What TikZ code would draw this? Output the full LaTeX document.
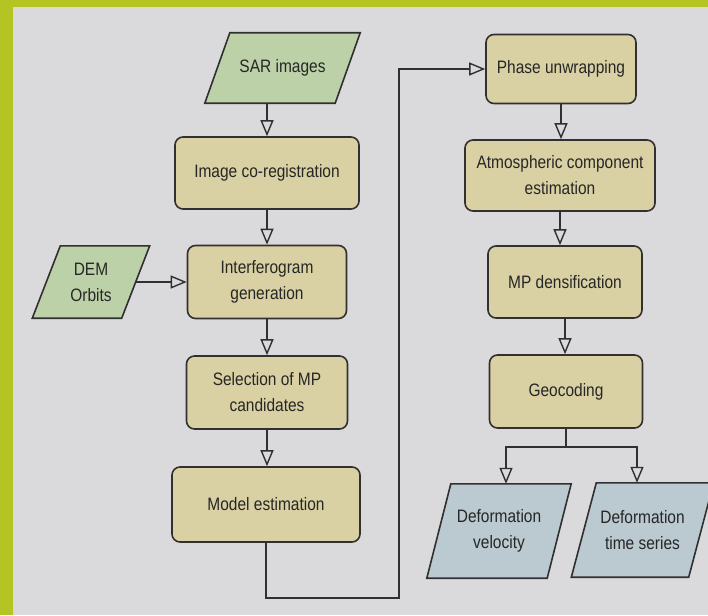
\documentclass[tikz,border=0pt]{standalone}
\usepackage{fontspec}
\setmainfont{Liberation Sans}[FakeStretch=0.86]
\usetikzlibrary{arrows.meta,calc}
\definecolor{framegreen}{HTML}{B3C423}
\definecolor{pagegray}{HTML}{DAD9DC}
\definecolor{boxtan}{HTML}{D9D1A3}
\definecolor{paragreen}{HTML}{BDD1A8}
\definecolor{parablue}{HTML}{BACAD0}
\definecolor{inkgray}{HTML}{303030}
\definecolor{txtgray}{HTML}{262626}
\pgfdeclarelayer{paper}
\pgfdeclarelayer{shapes}
\pgfsetlayers{paper,shapes,main}
\newcommand{\paragram}[3]{%
  \begin{pgfonlayer}{shapes}
  \filldraw[fill=#2, draw=inkgray, line width=1.6pt, line join=miter]
    ($(#1.south west)+(-#3,0)$) -- ($(#1.south east)+(-#3,0)$) --
    ($(#1.north east)+(#3,0)$) -- ($(#1.north west)+(#3,0)$) -- cycle;
  \end{pgfonlayer}}
\begin{document}
\begin{tikzpicture}[x=1pt,y=-1pt,
  every node/.style={text=txtgray, font=\fontsize{18}{26}\selectfont, align=center, inner sep=0pt},
  stepbox/.style={draw=inkgray, line width=1.6pt, fill=boxtan, rounded corners=8pt},
  dataslot/.style={draw=none},
  conn/.style={draw=inkgray, line width=1.6pt},
  arr/.style={conn, -{Triangle[open, length=16pt, width=13pt, line width=1.4pt]}}]
% page and frame
\begin{pgfonlayer}{paper}
\fill[framegreen] (0,0) rectangle (708,615);
\fill[pagegray] (13,7) rectangle (708,615);
\end{pgfonlayer}
\useasboundingbox (0,0) rectangle (708,615);
% left column
\node[dataslot, minimum width=130pt, minimum height=70pt] (sar) at (282.5,68) {SAR images};
\node[stepbox, minimum width=184pt, minimum height=72pt] (ico) at (267,173) {Image co-registration};
\node[stepbox, minimum width=159pt, minimum height=73pt] (ifg) at (267,282) {Interferogram\\generation};
\node[dataslot, minimum width=89pt, minimum height=72pt] (dem) at (91,282) {DEM\\Orbits};
\node[stepbox, minimum width=161pt, minimum height=73pt] (sel) at (267,392.5) {Selection of MP\\candidates};
\node[stepbox, minimum width=188pt, minimum height=75pt] (mod) at (266,504.5) {Model estimation};
% right column
\node[stepbox, minimum width=150pt, minimum height=69pt] (pu) at (561,69) {Phase unwrapping};
\node[stepbox, minimum width=190pt, minimum height=71pt] (atm) at (560,175.5) {Atmospheric component\\estimation};
\node[stepbox, minimum width=154pt, minimum height=72pt] (mpd) at (565,282) {MP densification};
\node[stepbox, minimum width=153pt, minimum height=73pt] (geo) at (566,391.5) {Geocoding};
\node[dataslot, minimum width=120pt, minimum height=94pt] (dv) at (499,531) {Deformation\\velocity};
\node[dataslot, minimum width=117pt, minimum height=94pt] (dts) at (642.5,530) {Deformation\\time series};
% parallelogram outlines
\paragram{sar}{paragreen}{12.5}
\paragram{dem}{paragreen}{14}
\paragram{dv}{parablue}{12}
\paragram{dts}{parablue}{12.5}
% connectors
\draw[arr] (sar.south -| ico.north) -- (ico.north);
\draw[arr] (ico.south) -- (ifg.north);
\draw[arr] (dem.east) -- (ifg.west);
\draw[arr] (ifg.south) -- (sel.north);
\draw[arr] (sel.south) -- (sel.south |- mod.north);
\coordinate (c1) at (266,598);
\coordinate (c2) at (399,598);
\draw[arr] (mod.south) -- (c1) -- (c2) |- (pu.west);
\draw[arr] (pu.south) -- (pu.south |- atm.north);
\draw[arr] (atm.south) -- (atm.south |- mpd.north);
\draw[arr] (mpd.south) -- (mpd.south |- geo.north);
\coordinate (sp) at (566,447);
\coordinate (spl) at (506,447);
\coordinate (spr) at (637,447);
\draw[conn] (geo.south) -- (sp);
\draw[arr] (sp) -- (spl) -- (spl |- dv.north);
\draw[arr] (sp) -- (spr) -- (spr |- dts.north);
\end{tikzpicture}
\end{document}
